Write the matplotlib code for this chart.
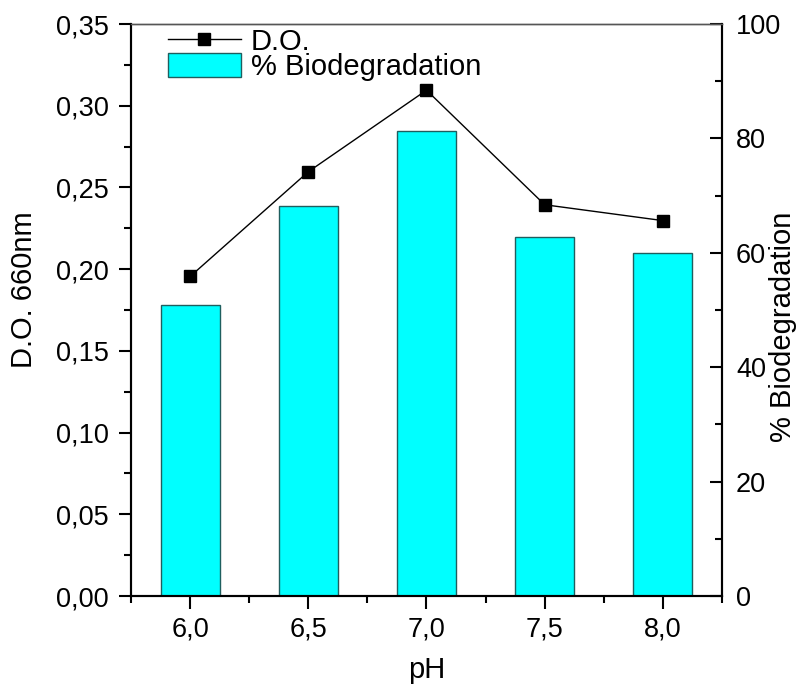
import matplotlib
matplotlib.use("Agg")
import matplotlib.pyplot as plt
from matplotlib.ticker import FixedLocator, FixedFormatter, MultipleLocator

plt.rcParams['font.family'] = ['Liberation Sans', 'DejaVu Sans']

# data
ph = [6.0, 6.5, 7.0, 7.5, 8.0]
do_660 = [0.1955, 0.2596, 0.3095, 0.2394, 0.2297]
biodeg = [50.9, 68.1, 81.3, 62.7, 60.0]

x_ticks = [6.0, 6.5, 7.0, 7.5, 8.0]
x_tick_labels = ['6,0', '6,5', '7,0', '7,5', '8,0']
y1_ticks = [0.00, 0.05, 0.10, 0.15, 0.20, 0.25, 0.30, 0.35]
y1_tick_labels = ['0,00', '0,05', '0,10', '0,15', '0,20', '0,25', '0,30', '0,35']
y2_ticks = [0, 20, 40, 60, 80, 100]
y2_tick_labels = ['0', '20', '40', '60', '80', '100']

fig = plt.figure(figsize=(7.98, 6.84), dpi=100)
ax1 = fig.add_axes([131/798, 88/684, 591/798, 572/684])
ax2 = ax1.twinx()

bars = ax2.bar(ph, biodeg, width=0.25, color='#00FFFF', edgecolor='#1f5f5f',
               linewidth=1.0, label='% Biodegradation')
line, = ax1.plot(ph, do_660, color='black', linewidth=1.0, marker='s',
                 markersize=8.5, markerfacecolor='black', markeredgecolor='black',
                 label='D.O.')

ax1.set_zorder(ax2.get_zorder() + 1)
ax1.patch.set_visible(False)

ax1.set_xlim(5.75, 8.25)
ax1.set_ylim(0, 0.35)
ax2.set_ylim(0, 100)

ax1.xaxis.set_major_locator(FixedLocator(x_ticks))
ax1.xaxis.set_major_formatter(FixedFormatter(x_tick_labels))
ax1.xaxis.set_minor_locator(FixedLocator([5.75, 6.25, 6.75, 7.25, 7.75, 8.25]))
ax1.yaxis.set_major_locator(FixedLocator(y1_ticks))
ax1.yaxis.set_major_formatter(FixedFormatter(y1_tick_labels))
ax1.yaxis.set_minor_locator(MultipleLocator(0.025))
ax2.yaxis.set_major_locator(FixedLocator(y2_ticks))
ax2.yaxis.set_major_formatter(FixedFormatter(y2_tick_labels))
ax2.yaxis.set_minor_locator(MultipleLocator(10))

ax1.tick_params(axis='x', which='major', direction='out', length=9, width=1.5,
                labelsize=19.5, pad=6, top=False)
ax1.tick_params(axis='x', which='minor', direction='out', length=5, width=1.5, top=False)
ax1.tick_params(axis='y', which='major', direction='out', length=9, width=1.5,
                labelsize=19.5, pad=7, right=False)
ax1.tick_params(axis='y', which='minor', direction='out', length=5, width=1.5, right=False)
ax2.tick_params(axis='y', which='major', direction='in', length=9, width=1.5,
                labelsize=19.5, pad=10)
ax2.tick_params(axis='y', which='minor', direction='in', length=5, width=1.5)

for ax in (ax1, ax2):
    for s in ('left', 'right', 'bottom'):
        ax.spines[s].set_linewidth(1.5)
        ax.spines[s].set_color('black')
    ax.spines['top'].set_linewidth(1.0)
    ax.spines['top'].set_color('#555555')

ax1.set_xlabel('pH', fontsize=21)
ax1.xaxis.set_label_coords(0.5, -0.105)
ax1.set_ylabel('D.O. 660nm', fontsize=21)
ax1.yaxis.set_label_coords(-0.158, 0.535)
ax2.set_ylabel('% Biodegradation', fontsize=21)
ax2.yaxis.set_label_coords(1.08, 0.471)

leg = ax1.legend([line, bars], ['D.O.', '% Biodegradation'], loc='upper left',
                 bbox_to_anchor=(0.062, 0.993), frameon=False, fontsize=21,
                 handlelength=2.5, handleheight=0.85, handletextpad=0.35,
                 labelspacing=-0.1, borderpad=0.0, borderaxespad=0.0)

fig.savefig('out.png', dpi=100)
